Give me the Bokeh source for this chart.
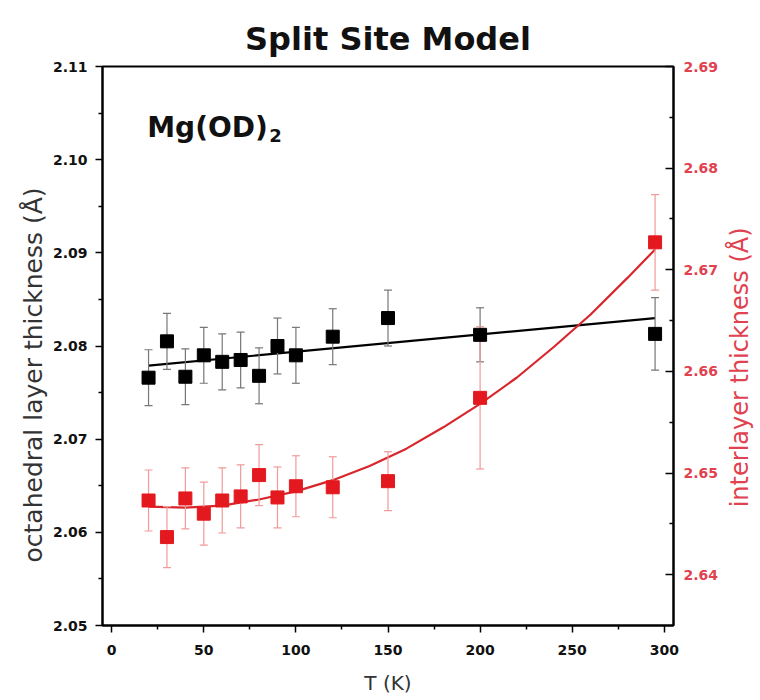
import math
from bokeh.plotting import figure
from bokeh.models import (Range1d, LinearAxis, FixedTicker, PrintfTickFormatter,
                          ColumnDataSource, Whisker, TeeHead, Label, Title)
from bokeh.embed import file_html
from bokeh.resources import INLINE

# ---------------- data ----------------
T = [20, 30, 40, 50, 60, 70, 80, 90, 100, 120, 150, 200, 295]
oct_thk = [2.0766, 2.0805, 2.0767, 2.0790, 2.0783, 2.0785, 2.0768,
           2.0800, 2.0790, 2.0810, 2.0830, 2.0812, 2.0813]
oct_err = [0.0030, 0.0030, 0.0030, 0.0030, 0.0030, 0.0030, 0.0030,
           0.0030, 0.0030, 0.0030, 0.0030, 0.0029, 0.0039]
int_thk = [2.6473, 2.6437, 2.6475, 2.6460, 2.6473, 2.6477, 2.6498,
           2.6476, 2.6487, 2.6486, 2.6492, 2.6574, 2.6727]
int_err = [0.0030, 0.0030, 0.0030, 0.0031, 0.0032, 0.0031, 0.0030,
           0.0030, 0.0030, 0.0030, 0.0029, 0.0070, 0.0047]

oct_fit_T = [20, 295]
oct_fit = [2.0779, 2.0830]
int_fit_T = [20, 40, 60, 80, 100, 120, 140, 160, 180, 200, 220, 240, 260, 280, 295]
int_fit = [2.6467, 2.6466, 2.6468, 2.6474, 2.6482, 2.6493, 2.6507, 2.6524,
           2.6545, 2.6568, 2.6594, 2.6624, 2.6656, 2.6692, 2.6720]

t_ticks = [0, 50, 100, 150, 200, 250, 300]
left_ticks = [2.05, 2.06, 2.07, 2.08, 2.09, 2.10, 2.11]
right_ticks = [2.64, 2.65, 2.66, 2.67, 2.68, 2.69]

title = "Split Site Model"
sample = "Mg(OD)"
sample_sub = "2"
x_label = "T (K)"
left_label = "octahedral layer thickness (Å)"
right_label = "interlayer thickness (Å)"

# ---------------- styling ----------------
FONT = "DejaVu Sans"
RED = "#e3191f"
RED_TXT = "#e0424f"
RED_ERR = "#f19a9a"
BLK_ERR = "#777777"

p = figure(width=760, height=700,
           x_range=Range1d(-5, 305), y_range=Range1d(2.05, 2.11),
           output_backend="svg", toolbar_location=None,
           min_border_left=102, min_border_right=87,
           min_border_top=66, min_border_bottom=75,
           x_axis_label=x_label)
p.extra_y_ranges = {"right": Range1d(2.635, 2.69)}

p.title.text = title
p.title.align = "center"
p.title.text_font = FONT
p.title.text_font_size = "32px"
p.title.text_font_style = "bold"
p.title.text_color = "#111111"
p.title.standoff = 17

p.xgrid.visible = False
p.ygrid.visible = False
p.outline_line_color = "black"
p.outline_line_width = 2
p.outline_line_alpha = 1.0
p.background_fill_color = "white"
p.border_fill_color = "white"


def mids(ticks):
    return [(a + b) / 2 for a, b in zip(ticks[:-1], ticks[1:])]


def style_axis(ax, color, lab_color):
    ax.axis_line_color = "black"
    ax.axis_line_width = 2
    ax.major_tick_line_color = "black"
    ax.minor_tick_line_color = "black"
    ax.major_tick_line_width = 1.5
    ax.minor_tick_line_width = 1.5
    ax.major_label_text_font = FONT
    ax.major_label_text_font_size = "14px"
    ax.major_label_text_font_style = "bold"
    ax.major_label_text_color = color
    ax.axis_label_text_font = FONT
    ax.axis_label_text_font_style = "normal"
    ax.axis_label_text_color = lab_color


# bottom axis
xa = p.xaxis[0]
xa.ticker = FixedTicker(ticks=t_ticks, minor_ticks=mids(t_ticks))
style_axis(xa, "#111111", "#333333")
xa.major_tick_out = 7
xa.major_tick_in = 0
xa.minor_tick_out = 4
xa.minor_tick_in = 0
xa.major_label_standoff = 12
xa.axis_label_text_font_size = "20px"
xa.axis_label_standoff = 13

# left axis
ya = p.yaxis[0]
ya.ticker = FixedTicker(ticks=left_ticks, minor_ticks=mids(left_ticks))
ya.formatter = PrintfTickFormatter(format="%.2f")
style_axis(ya, "#111111", "#333333")
ya.major_tick_out = 7
ya.major_tick_in = 0
ya.minor_tick_out = 4
ya.minor_tick_in = 0
ya.major_label_standoff = 8

# left axis title (side Title, reading upward, starting a bit above the bottom)
lt = Title(text=left_label, align="left", offset=63, standoff=4,
           text_font=FONT, text_font_size="25px", text_font_style="normal",
           text_color="#333333")
p.add_layout(lt, "left")

# right axis
ra = LinearAxis(y_range_name="right")
ra.ticker = FixedTicker(ticks=right_ticks, minor_ticks=mids(right_ticks))
ra.formatter = PrintfTickFormatter(format="%.2f")
style_axis(ra, RED_TXT, RED_TXT)
ra.major_tick_out = 0
ra.major_tick_in = 8
ra.minor_tick_out = 0
ra.minor_tick_in = 4
ra.major_label_standoff = 10
p.add_layout(ra, "right")

# right axis title: a label in the right side panel, reading upward
p.add_layout(Label(x=341.0, y=2.6604, y_range_name="right", text=right_label,
                   angle=math.pi / 2, text_align="center",
                   text_baseline="middle", text_font=FONT,
                   text_font_size="24px", text_color=RED_TXT), "right")

# ---------------- data glyphs ----------------
oct_src = ColumnDataSource(dict(
    T=T, v=oct_thk,
    up=[v + e for v, e in zip(oct_thk, oct_err)],
    lo=[v - e for v, e in zip(oct_thk, oct_err)]))
int_src = ColumnDataSource(dict(
    T=T, v=int_thk,
    up=[v + e for v, e in zip(int_thk, int_err)],
    lo=[v - e for v, e in zip(int_thk, int_err)]))

# fits
p.line(oct_fit_T, oct_fit, line_color="black", line_width=2.2)
p.line(int_fit_T, int_fit, line_color="#d8262c", line_width=2.2,
       y_range_name="right")

# error bars
wb = Whisker(source=oct_src, base="T", upper="up", lower="lo",
             dimension="height", line_color=BLK_ERR, line_width=1.2,
             upper_head=TeeHead(size=8, line_color=BLK_ERR, line_width=1.2),
             lower_head=TeeHead(size=8, line_color=BLK_ERR, line_width=1.2))
wb.level = "glyph"
p.add_layout(wb)
wr = Whisker(source=int_src, base="T", upper="up", lower="lo",
             dimension="height", line_color=RED_ERR, line_width=1.2,
             y_range_name="right",
             upper_head=TeeHead(size=8, line_color=RED_ERR, line_width=1.2),
             lower_head=TeeHead(size=8, line_color=RED_ERR, line_width=1.2))
wr.level = "glyph"
p.add_layout(wr)

# markers
p.scatter("T", "v", source=oct_src, marker="square", size=13,
          fill_color="black", line_color="black", level="overlay")
p.scatter("T", "v", source=int_src, marker="square", size=13,
          fill_color=RED, line_color=RED, y_range_name="right", level="overlay")

# sample label Mg(OD)2
p.add_layout(Label(x=19.3, y=2.1034, text=sample, text_font=FONT,
                   text_font_size="28px", text_font_style="bold",
                   text_color="#111111", text_baseline="alphabetic"))
p.add_layout(Label(x=85.5, y=2.1026, text=sample_sub, text_font=FONT,
                   text_font_size="18px", text_font_style="bold",
                   text_color="#111111", text_baseline="alphabetic"))

open("out.html", "w").write(file_html(p, INLINE))
